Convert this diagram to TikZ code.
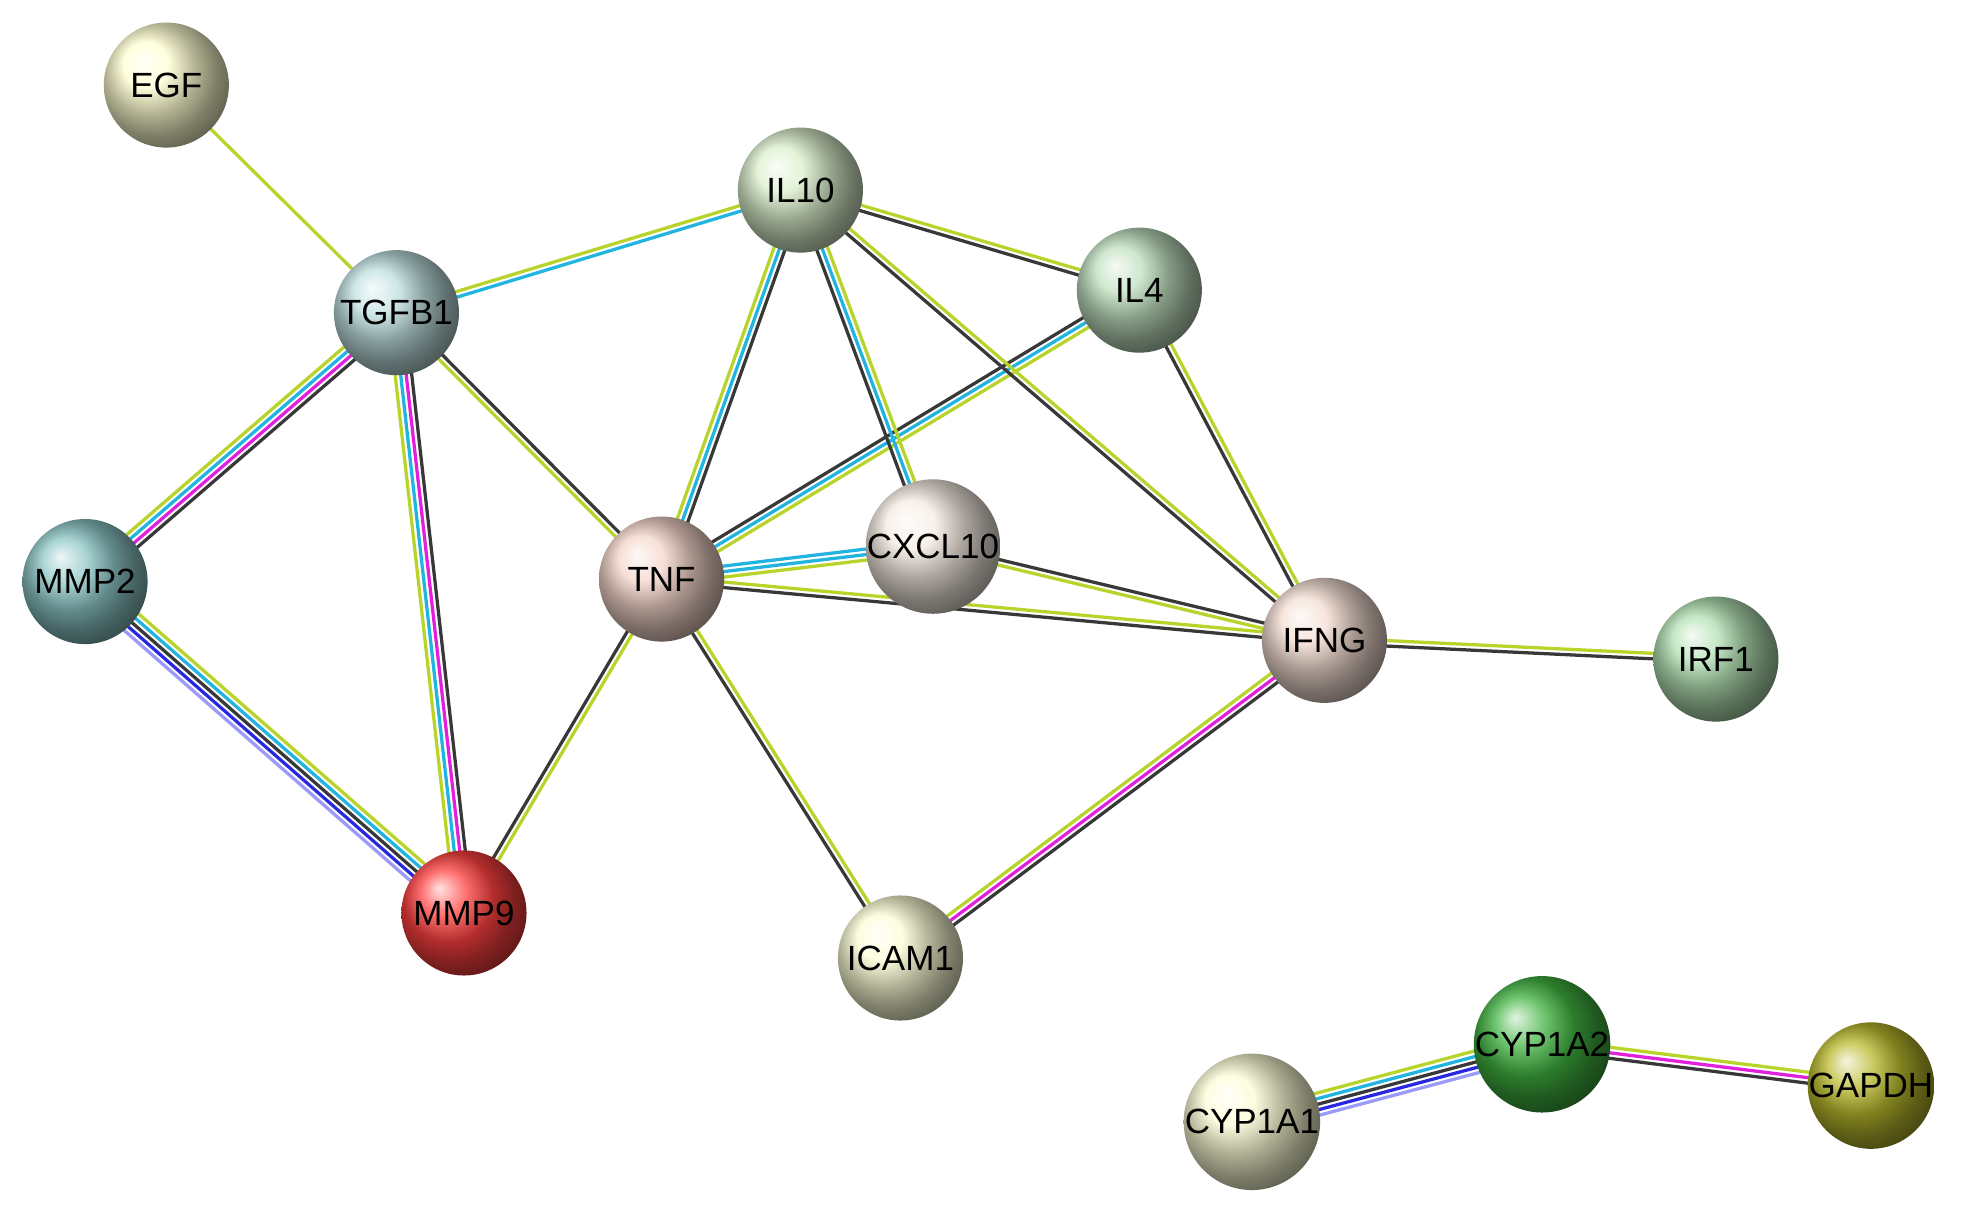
\documentclass[tikz,border=0pt]{standalone}
\usepackage{fontspec}
\setmainfont{Liberation Sans}
\usetikzlibrary{calc}
\definecolor{yg}{HTML}{B8D42A}
\definecolor{cy}{HTML}{22B4E0}
\definecolor{mg}{HTML}{E020DC}
\definecolor{bk}{HTML}{383838}
\definecolor{bl}{HTML}{2828E0}
\definecolor{lb}{HTML}{9A9AF8}
\newcommand\edgeset[4]{%
  \foreach \c [count=\i] in {#4} {%
    \pgfmathsetmacro\off{(\i-(#3+1)/2)*4.4}
    \draw[\c, line width=2.6pt] ($(#1)!\off pt!90:(#2)$) -- ($(#2)!\off pt!-90:(#1)$);
  }}
\tikzset{prot/.style={circle, minimum size=100pt, inner sep=0pt, shading=ball, ball color=#1, font=\fontsize{28}{30}\selectfont, text=black}}
\begin{document}
\begin{tikzpicture}[x=1pt,y=-1pt]
\useasboundingbox (0,0) rectangle (1568,975);
\fill[white] (0,0) rectangle (1568,975);
\coordinate (EGF) at (133,68);
\coordinate (TGFB1) at (317,250);
\coordinate (IL10) at (640,152);
\coordinate (IL4) at (911,232);
\coordinate (MMP2) at (68,465);
\coordinate (TNF) at (529,463);
\coordinate (CXCL10) at (746,437);
\coordinate (IFNG) at (1059,512);
\coordinate (IRF1) at (1372,527);
\coordinate (MMP9) at (371,730);
\coordinate (ICAM1) at (720,766);
\coordinate (CYP1A2) at (1233,835);
\coordinate (GAPDH) at (1496,868);
\coordinate (CYP1A1) at (1001,897);
\edgeset{EGF}{TGFB1}{1}{yg}
\edgeset{TGFB1}{IL10}{2}{cy,yg}
\edgeset{TGFB1}{MMP2}{4}{yg,cy,mg,bk}
\edgeset{TGFB1}{MMP9}{4}{yg,cy,mg,bk}
\edgeset{TGFB1}{TNF}{2}{yg,bk}
\edgeset{MMP2}{MMP9}{5}{lb,bl,bk,cy,yg}
\edgeset{TNF}{MMP9}{2}{bk,yg}
\edgeset{TNF}{IL10}{3}{bk,cy,yg}
\edgeset{TNF}{IL4}{3}{yg,cy,bk}
\edgeset{TNF}{CXCL10}{3}{yg,cy,cy}
\edgeset{TNF}{IFNG}{2}{bk,yg}
\edgeset{TNF}{ICAM1}{2}{bk,yg}
\edgeset{IL10}{IL4}{2}{bk,yg}
\edgeset{IL10}{CXCL10}{3}{bk,cy,yg}
\edgeset{IL10}{IFNG}{2}{bk,yg}
\edgeset{IL4}{IFNG}{2}{bk,yg}
\edgeset{CXCL10}{IFNG}{2}{yg,bk}
\edgeset{IFNG}{IRF1}{2}{bk,yg}
\edgeset{IFNG}{ICAM1}{3}{yg,mg,bk}
\edgeset{CYP1A1}{CYP1A2}{5}{lb,bl,bk,cy,yg}
\edgeset{CYP1A2}{GAPDH}{3}{bk,mg,yg}
\node[prot={yellow!18!white}] at (EGF) {EGF};
\node[prot={teal!25!white}] at (TGFB1) {TGFB1};
\node[prot={green!40!olive!20!white}] at (IL10) {IL10};
\node[prot={green!50!black!25!white}] at (IL4) {IL4};
\node[prot={teal!45!white}] at (MMP2) {MMP2};
\node[prot={red!30!brown!25!white}] at (TNF) {TNF};
\node[prot={brown!15!white}] at (CXCL10) {CXCL10};
\node[prot={red!20!brown!22!white}] at (IFNG) {IFNG};
\node[prot={green!60!black!30!white}] at (IRF1) {IRF1};
\node[prot={red!75!white}] at (MMP9) {MMP9};
\node[prot={olive!15!yellow!15!white}] at (ICAM1) {ICAM1};
\node[prot={green!60!black!75!white}] at (CYP1A2) {CYP1A2};
\node[prot={olive!55!white}] at (GAPDH) {GAPDH};
\node[prot={olive!15!yellow!15!white}] at (CYP1A1) {CYP1A1};
\end{tikzpicture}
\end{document}
